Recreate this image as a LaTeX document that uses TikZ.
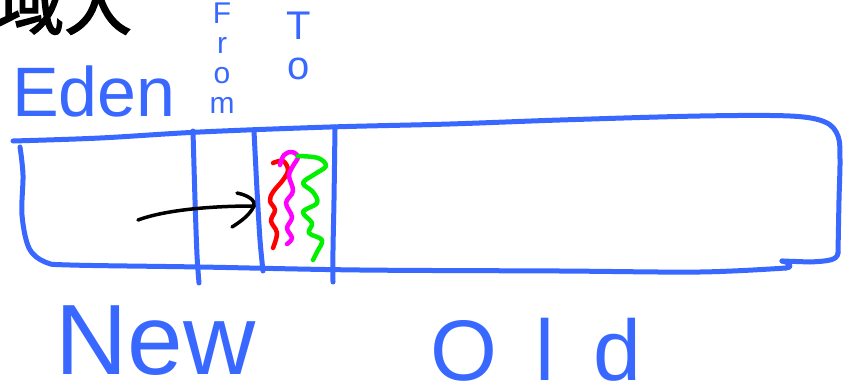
\documentclass[tikz,border=0pt]{standalone}
\usepackage{fontspec}
\setmainfont{Liberation Sans}
\newfontfamily\cjk{Noto Sans CJK SC}[FakeBold=2.5]
\newfontfamily\hand{Liberation Sans}
\definecolor{penblue}{RGB}{56,104,255}
\definecolor{pengreen}{RGB}{0,240,0}
\definecolor{penred}{RGB}{255,0,0}
\definecolor{penmag}{RGB}{255,0,255}
\tikzset{
  pen/.style={draw=penblue, line width=5pt, line cap=round, line join=round},
  wave/.style={line width=4.5pt, line cap=round, line join=round},
  ink/.style={draw=black, line width=3.5pt, line cap=round, line join=round},
  label/.style={text=penblue, inner sep=0pt, font=\hand},
}
\begin{document}
\begin{tikzpicture}[x=1pt,y=-1pt]
\useasboundingbox (0,0) rectangle (854,388);
% heading (cut off at top)
\node[anchor=base west, inner sep=0pt, font=\cjk\fontsize{68}{68}\selectfont] (head) at (-4,29) {域大};
% box outline
\draw[pen] plot[smooth, tension=0.55] coordinates {(13,141) (100,138) (200,132) (330,127) (450,124) (560,120) (700,116) (790,116) (825,122) (838,136) (840,160) (839,200) (838,253)};
\draw[pen] (838,253) .. controls (837,260) and (830,261) .. (810,262) -- (782,261);
\draw[pen] (782,261) .. controls (792,263) and (792,268) .. (786,268);
\draw[pen] plot[smooth, tension=0.55] coordinates {(786,268) (700,272) (560,271) (360,270) (200,267) (70,265) (45,262) (29,248) (22,215) (23,175) (20,147)};
% dividers
\draw[pen] plot[smooth] coordinates {(193,131) (195,200) (197,255) (199,283)};
\draw[pen] plot[smooth] coordinates {(254,131) (257,190) (260,240) (263,271)};
\draw[pen] plot[smooth] coordinates {(335,127) (334,200) (333,250) (333,282)};
% black arrow
\coordinate (astart) at (138,220);
\coordinate (atip) at (254,206);
\draw[ink] (astart) .. controls (165,210) and (210,206) .. (atip);
\draw[ink] (237,193) .. controls (247,195) and (256,200) .. (atip) .. controls (250,215) and (240,222) .. (232,227);
% wavy lines
\draw[wave, draw=penred] plot[smooth, tension=0.6] coordinates {(273,163) (283,161) (288,170) (283,180) (273,192) (270,201) (275,210) (271,221) (277,233) (273,248)};
\draw[wave, draw=penmag] plot[smooth, tension=0.6] coordinates {(280,165) (284,155) (292,152) (298,157) (293,166) (289,176) (293,191) (286,203) (292,217) (287,228) (292,238) (287,244)};
\draw[wave, draw=pengreen] plot[smooth, tension=0.6] coordinates {(298,156) (318,158) (326,166) (315,174) (303,183) (313,192) (317,203) (303,212) (312,223) (309,233) (322,240) (317,252) (313,260)};
% labels
\node[label, anchor=base west, font=\hand\fontsize{70}{70}\selectfont] (eden) at (12,116) {Eden};
\node[label, anchor=north, align=center, font=\hand\fontsize{30}{30}\selectfont] (from) at (222,3) {F\\r\\o\\m};
\node[label, anchor=north, align=center, font=\hand\fontsize{40}{40}\selectfont] (to) at (299,12) {T\\o};
\node[label, anchor=base west, text depth=0pt, font=\hand\fontsize{100}{100}\selectfont] (new) at (55,374) {New};
\node[label, anchor=base west, text depth=0pt, font=\hand\fontsize{86}{86}\selectfont\addfontfeature{LetterSpace=45}] (old) at (430,380) {Old};
\end{tikzpicture}
\end{document}
